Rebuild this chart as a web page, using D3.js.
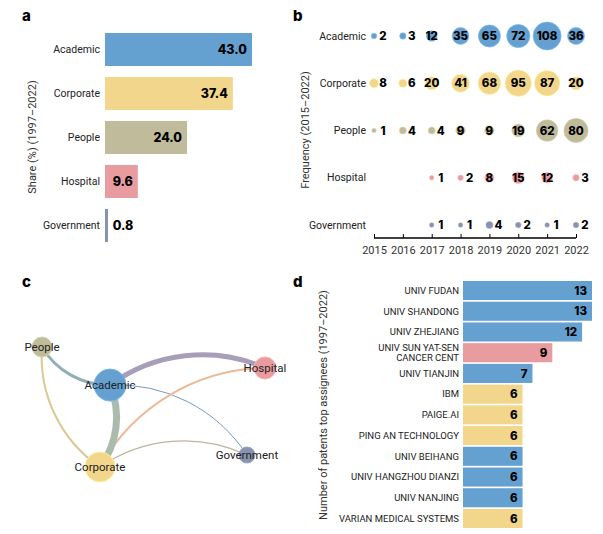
<!DOCTYPE html>
<html><head><meta charset="utf-8">
<script src="https://cdn.jsdelivr.net/npm/d3@7"></script>
<style>
body{margin:0;background:#fff;}
text{font-family:Roboto,"Liberation Sans",sans-serif;}
.num{font-family:Inter,Roboto,sans-serif;font-weight:800;}
</style></head>
<body><svg id="c" width="603" height="534"></svg>
<script>
// ---------- data ----------
const categories = ["Academic","Corporate","People","Hospital","Government"];
const categoryColors = ["#64a1d1","#f2d68b","#bfbb9b","#e99ca0","#8893ae"];
const shareValues = [43.0, 37.4, 24.0, 9.6, 0.8];

const years = [2015,2016,2017,2018,2019,2020,2021,2022];
const freqAcademic   = [2,3,12,35,65,72,108,36];
const freqCorporate  = [8,6,20,41,68,95,87,20];
const freqPeople     = [1,4,4,9,9,19,62,80];
const freqHospital   = [null,null,1,2,8,15,12,3];
const freqGovernment = [null,null,1,1,4,2,1,2];

// network: node layout (unit coords), node weight, edges with weight
const nodeLayoutX = [0.305, 0.26, 0.00, 1.00, 0.919];
const nodeLayoutY = [0.317, 1.00, 0.00, 0.175, 0.90];
const nodeWeight  = [16, 15, 10, 11, 8];
const edgeSource = ["Academic","Academic","Corporate","Corporate","Academic","Corporate","Academic"];
const edgeTarget = ["Hospital","Government","Government","Hospital","People","People","Corporate"];
const edgeWeight = [5, 1, 1.2, 2, 3, 2, 7];

const assignees = ["UNIV FUDAN","UNIV SHANDONG","UNIV ZHEJIANG","UNIV SUN YAT-SEN|CANCER CENT","UNIV TIANJIN","IBM","PAIGE.AI","PING AN TECHNOLOGY","UNIV BEIHANG","UNIV HANGZHOU DIANZI","UNIV NANJING","VARIAN MEDICAL SYSTEMS"];
const assigneePatents = [13,13,12,9,7,6,6,6,6,6,6,6];
const assigneeType = ["Academic","Academic","Academic","Hospital","Academic","Corporate","Corporate","Corporate","Academic","Academic","Academic","Corporate"];

// ---------- setup ----------
const svg = d3.select("#c");
const color = d3.scaleOrdinal().domain(categories).range(categoryColors);
const txt = "#222";

function letter(s,x,y){svg.append("text").attr("x",x).attr("y",y).text(s)
  .attr("class","num").attr("font-size",15).attr("fill","#000");}
function vtitle(s,x,y){svg.append("text").attr("transform",`translate(${x},${y}) rotate(-90)`)
  .attr("text-anchor","middle").attr("font-size",11).attr("fill","#333").text(s);}

// ---------- panel a ----------
letter("a",22,21);
vtitle("Share (%) (1997–2022)",36,137);
const ax = d3.scaleLinear().domain([0,43]).range([105,252]);
const ay = d3.scaleBand().domain(categories).range([27.5,247.5]).paddingInner(0.25).paddingOuter(0.125);
const ga = svg.append("g");
categories.forEach((c,i)=>{
  const v = shareValues[i];
  ga.append("rect").attr("x",ax(0)).attr("y",ay(c)).attr("width",Math.max(3,ax(v)-ax(0))).attr("height",ay.bandwidth())
    .attr("fill",color(c));
  ga.append("text").attr("x",100).attr("y",ay(c)+ay.bandwidth()/2).attr("dy","0.35em")
    .attr("text-anchor","end").attr("font-size",10.5).attr("fill",txt).text(c);
  const w = ax(v)-ax(0);
  const inside = w>25;
  ga.append("text").attr("class","num").attr("x",inside?ax(v)-5:ax(v)+5).attr("y",ay(c)+ay.bandwidth()/2).attr("dy","0.36em")
    .attr("text-anchor",inside?"end":"start").attr("font-size",12.5).attr("fill","#000").text(v.toFixed(1));
});

// ---------- panel b ----------
letter("b",293,21);
vtitle("Frequency (2015–2022)",309,130);
const freqs = [freqAcademic,freqCorporate,freqPeople,freqHospital,freqGovernment];
const bx = d3.scaleLinear().domain([2015,2022]).range([374,576]);
const by = d3.scalePoint().domain(categories).range([36,225]);
const br = d3.scaleSqrt().domain([0,108]).range([1,14]);
const gb = svg.append("g");
categories.forEach((c,i)=>{
  gb.append("text").attr("x",366).attr("y",by(c)).attr("dy","0.35em").attr("text-anchor","end")
    .attr("font-size",10.5).attr("fill",txt).text(c);
  years.forEach((yr,j)=>{
    const v = freqs[i][j]; if(v==null) return;
    const r = br(v);
    gb.append("circle").attr("cx",bx(yr)).attr("cy",by(c)).attr("r",r)
      .attr("fill",color(c)).attr("stroke",d3.color(color(c)).brighter(0.4)).attr("stroke-width",0.6);
  });
});
categories.forEach((c,i)=>{
  years.forEach((yr,j)=>{
    const v = freqs[i][j]; if(v==null) return;
    const off = v<8 || yr<2017;
    gb.append("text").attr("class","num").attr("x",bx(yr)+(off?9:0)).attr("y",by(c)).attr("dy","0.36em")
      .attr("text-anchor","middle").attr("font-size",11.5).attr("fill","#000").text(v);
  });
});
const bAxis = gb.append("g").attr("transform","translate(0,238)")
  .call(d3.axisBottom(bx).tickValues(years).tickFormat(d3.format("d")).tickSize(-4).tickPadding(8));
bAxis.select(".domain").attr("stroke","#000").attr("stroke-width",1.6).attr("d",`M${bx(2015)},0H${bx(2022)}`);
bAxis.selectAll(".tick line").attr("stroke","#000");
bAxis.selectAll(".tick text").attr("font-size",11).attr("fill","#333").attr("font-family","Roboto,sans-serif");

// ---------- panel c ----------
letter("c",22,287);
const cx = d3.scaleLinear().domain([0,1]).range([42,265]);
const cy = d3.scaleLinear().domain([0,1]).range([347,467]);
const nr = d3.scaleLinear().domain([0,16]).range([0,16]);
const ew = d3.scaleLinear().domain([0,7]).range([0,7]);
const pos = {};
categories.forEach((c,i)=>pos[c]=[cx(nodeLayoutX[i]),cy(nodeLayoutY[i])]);
const gc = svg.append("g");
edgeSource.forEach((s,i)=>{
  const t = edgeTarget[i];
  const [x1,y1]=pos[s],[x2,y2]=pos[t];
  const dr = Math.hypot(x2-x1,y2-y1);
  gc.append("path").attr("d",`M${x1},${y1}A${dr},${dr} 0 0,1 ${x2},${y2}`)
    .attr("fill","none").attr("stroke",d3.interpolateRgb(color(s),color(t))(0.5))
    .attr("stroke-width",ew(edgeWeight[i])).attr("stroke-linecap","round");
});
categories.forEach((c,i)=>{
  gc.append("circle").attr("cx",pos[c][0]).attr("cy",pos[c][1]).attr("r",nr(nodeWeight[i]))
    .attr("fill",color(c)).attr("stroke",d3.color(color(c)).brighter(0.3)).attr("stroke-width",1);
});
categories.forEach((c,i)=>{
  gc.append("text").attr("x",pos[c][0]).attr("y",pos[c][1]).attr("dy","0.35em").attr("text-anchor","middle")
    .attr("font-size",11.5).attr("fill",txt).text(c);
});

// ---------- panel d ----------
letter("d",293,287);
vtitle("Number of patents top assignees (1997–2022)",327,405);
const dx = d3.scaleLinear().domain([0,13]).range([463,592]);
const dy = d3.scaleBand().domain(assignees).range([281,528]).paddingInner(0.08).paddingOuter(0);
const gd = svg.append("g");
assignees.forEach((a,i)=>{
  const v = assigneePatents[i];
  gd.append("rect").attr("x",dx(0)).attr("y",dy(a)).attr("width",dx(v)-dx(0)).attr("height",dy.bandwidth())
    .attr("fill",color(assigneeType[i]));
  const lines = a.split("|");
  const yc = dy(a)+dy.bandwidth()/2;
  lines.forEach((l,k)=>{
    gd.append("text").attr("x",459).attr("y",yc+(k-(lines.length-1)/2)*10.5).attr("dy","0.35em")
      .attr("text-anchor","end").attr("font-size",9.5).attr("fill",txt).text(l);
  });
  gd.append("text").attr("class","num").attr("x",dx(v)-5).attr("y",yc).attr("dy","0.36em")
    .attr("text-anchor","end").attr("font-size",11.5).attr("fill","#000").text(v);
});
</script></body></html>
